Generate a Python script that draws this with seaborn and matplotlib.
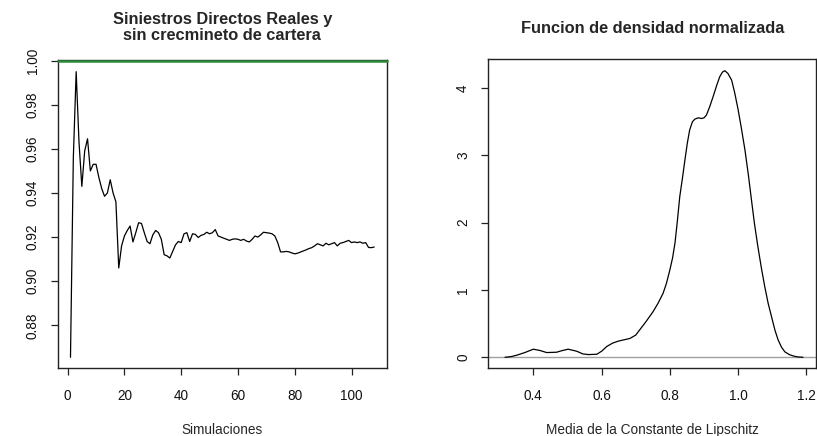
import matplotlib
matplotlib.use("Agg")
import matplotlib.pyplot as plt
import numpy as np
import pandas as pd
import seaborn as sns

# ---------------- data ----------------
simulaciones = list(range(1, 109))
ratio = [
    0.8655, 0.9560, 0.9950, 0.9630, 0.9430, 0.9590, 0.9646, 0.9500, 0.9530, 0.9530,
    0.9470, 0.9420, 0.9385, 0.9400, 0.9460, 0.9400, 0.9360, 0.9060, 0.9160, 0.9205,
    0.9230, 0.9250, 0.9178, 0.9220, 0.9265, 0.9262, 0.9220, 0.9180, 0.9170, 0.9210,
    0.9230, 0.9220, 0.9190, 0.9120, 0.9115, 0.9105, 0.9135, 0.9165, 0.9180, 0.9175,
    0.9215, 0.9220, 0.9180, 0.9215, 0.9212, 0.9198, 0.9208, 0.9212, 0.9222, 0.9215,
    0.9220, 0.9234, 0.9205, 0.9200, 0.9195, 0.9190, 0.9185, 0.9190, 0.9192, 0.9190,
    0.9185, 0.9190, 0.9182, 0.9178, 0.9190, 0.9205, 0.9200, 0.9210, 0.9222, 0.9220,
    0.9218, 0.9215, 0.9205, 0.9175, 0.9133, 0.9133, 0.9135, 0.9133, 0.9128, 0.9124,
    0.9127, 0.9132, 0.9137, 0.9142, 0.9148, 0.9152, 0.9160, 0.9170, 0.9165, 0.9160,
    0.9172, 0.9165, 0.9170, 0.9175, 0.9160, 0.9172, 0.9175, 0.9180, 0.9185, 0.9175,
    0.9178, 0.9175, 0.9178, 0.9172, 0.9175, 0.9153, 0.9152, 0.9155,
]
ref_level = 1.0

dens_x = [0.317, 0.335, 0.351, 0.375, 0.400, 0.420, 0.439, 0.468, 0.485, 0.502,
          0.527, 0.545, 0.561, 0.586, 0.600, 0.615, 0.632, 0.649, 0.683, 0.700,
          0.712, 0.730, 0.751, 0.765, 0.780, 0.790, 0.800, 0.808, 0.815, 0.822,
          0.829, 0.837, 0.844, 0.851, 0.858, 0.866, 0.873, 0.883, 0.893, 0.900,
          0.907, 0.917, 0.927, 0.937, 0.946, 0.954, 0.961, 0.970, 0.981, 0.990,
          1.000, 1.010, 1.020, 1.030, 1.039, 1.048, 1.058, 1.068, 1.078, 1.088,
          1.098, 1.108, 1.117, 1.127, 1.137, 1.150, 1.161, 1.175, 1.190]
dens_y = [0.00, 0.01, 0.03, 0.07, 0.12, 0.10, 0.07, 0.075, 0.10, 0.12,
          0.09, 0.05, 0.04, 0.045, 0.09, 0.16, 0.21, 0.24, 0.28, 0.33,
          0.41, 0.53, 0.68, 0.80, 0.95, 1.10, 1.30, 1.48, 1.70, 2.03,
          2.39, 2.67, 2.93, 3.18, 3.38, 3.50, 3.54, 3.56, 3.55, 3.56,
          3.60, 3.73, 3.88, 4.04, 4.17, 4.24, 4.26, 4.22, 4.12, 3.93,
          3.68, 3.39, 3.08, 2.71, 2.34, 1.98, 1.64, 1.33, 1.05, 0.80,
          0.60, 0.40, 0.26, 0.15, 0.08, 0.04, 0.02, 0.005, 0.00]

left_title = "Siniestros Directos Reales y\nsin crecmineto de cartera"
right_title = "Funcion de densidad normalizada"
left_xlabel = "Simulaciones"
right_xlabel = "Media de la Constante de Lipschitz"
left_xticks = [0, 20, 40, 60, 80, 100]
left_yticks = [0.88, 0.90, 0.92, 0.94, 0.96, 0.98, 1.00]
right_xticks = [0.4, 0.6, 0.8, 1.0, 1.2]
right_yticks = [0, 1, 2, 3, 4]

# ---------------- style ----------------
sns.set_theme(style="white")
plt.rcParams["font.family"] = ["Liberation Sans", "DejaVu Sans"]

W, H = 817, 436
fig = plt.figure(figsize=(W / 100, H / 100), dpi=100)

def px_axes(x0, x1, ytop, ybot):
    return [x0 / W, 1 - ybot / H, (x1 - x0) / W, (ybot - ytop) / H]

ax1 = fig.add_axes(px_axes(58, 386.7, 60, 368.3))
ax2 = fig.add_axes(px_axes(488.3, 816.3, 59.3, 368.3))

# ---------------- left panel ----------------
df1 = pd.DataFrame({"sim": simulaciones, "ratio": ratio})
sns.lineplot(data=df1, x="sim", y="ratio", ax=ax1, color="black", lw=0.9)
ax1.axhline(ref_level, color="#2a8a3a", lw=1.8, clip_on=False, zorder=5)
ax1.set_xlim(-3.4, 112.4)
ax1.set_ylim(0.8605, 1.0003)
ax1.set_xticks(left_xticks)
ax1.set_xticklabels([str(v) for v in left_xticks])
ax1.set_yticks(left_yticks)
ax1.set_yticklabels([f"{v:.2f}" for v in left_yticks], rotation=90, va="center")
ax1.set_xlabel(left_xlabel, fontsize=9.8)
ax1.set_ylabel("")
ax1.xaxis.set_label_coords(0.5, -0.2)
ax1.xaxis.label.set_va("center")
ax1.text(0.5, 1.106, left_title, transform=ax1.transAxes, ha="center", va="center",
         fontsize=11.8, fontweight="bold", linespacing=1.12)

# ---------------- right panel ----------------
df2 = pd.DataFrame({"x": dens_x, "y": dens_y})
ax2.axhline(0, color="#a0a0a0", lw=1.0, zorder=1)
sns.lineplot(data=df2, x="x", y="y", ax=ax2, color="black", lw=0.9, zorder=3)
ax2.set_xlim(0.268, 1.229)
ax2.set_ylim(-0.164, 4.43)
ax2.set_xticks(right_xticks)
ax2.set_xticklabels([f"{v:.1f}" for v in right_xticks])
ax2.set_yticks(right_yticks)
ax2.set_yticklabels([str(v) for v in right_yticks], rotation=90, va="center")
ax2.set_xlabel(right_xlabel, fontsize=9.8)
ax2.set_ylabel("")
ax2.xaxis.set_label_coords(0.5, -0.2)
ax2.xaxis.label.set_va("center")
ax2.text(0.5, 1.1, right_title, transform=ax2.transAxes, ha="center", va="center",
         fontsize=11.8, fontweight="bold")

for ax in (ax1, ax2):
    for sp in ax.spines.values():
        sp.set_visible(True)
        sp.set_color("#222222")
        sp.set_linewidth(1.0)
    ax.tick_params(axis="both", which="major", direction="out", length=5,
                   width=0.9, color="#222222", labelsize=9.8, labelcolor="#111111",
                   bottom=True, left=True, pad=8)
    ax.tick_params(axis="x", pad=10)
    ax.grid(False)

fig.savefig("out.png", dpi=100, facecolor="white")
